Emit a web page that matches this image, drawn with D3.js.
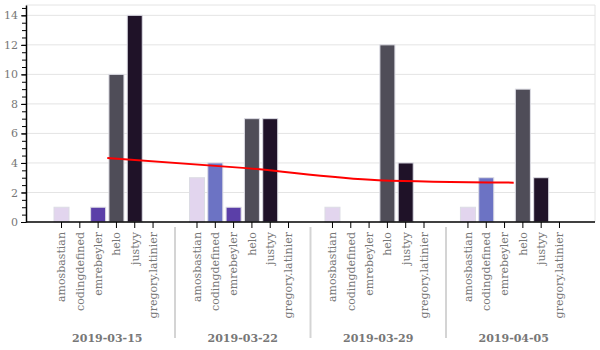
<!DOCTYPE html>
<html>
<head>
<meta charset="utf-8">
<script src="https://cdn.jsdelivr.net/npm/d3@7"></script>
<style>
  body { margin: 0; background: #fff; }
  svg text { font-family: "DejaVu Serif", "Liberation Serif", serif !important; }
</style>
</head>
<body>
<div id="chart"></div>
<script>
// weeks and users
const weeks = ["2019-03-15", "2019-03-22", "2019-03-29", "2019-04-05"];
const users = ["amosbastian", "codingdefined", "emrebeyler", "helo", "justyy", "gregory.latinier"];
const userColors = ["#e2d5ee", "#6c73c4", "#5b3fa8", "#4f4d58", "#1f1228", "#999999"];

// counts per user, one array per week (same order as users)
const week1 = [1, 0, 1, 10, 14, 0];
const week2 = [3, 4, 1, 7, 7, 0];
const week3 = [1, 0, 0, 12, 4, 0];
const week4 = [1, 3, 0, 9, 3, 0];
const counts = [week1, week2, week3, week4];

const w = 600, h = 350;
const margin = {top: 5, right: 5, bottom: 128, left: 26};
const serif = '"DejaVu Serif", "Liberation Serif", serif';

const svg = d3.select("#chart").append("svg")
  .attr("width", w).attr("height", h);

const x0 = d3.scaleBand()
  .domain(weeks)
  .range([margin.left, w - margin.right])
  .paddingInner(0).paddingOuter(0.1);

const x1 = d3.scaleBand()
  .domain(users)
  .range([0, x0.bandwidth()])
  .paddingInner(0.18).paddingOuter(0.79);

const yMax = d3.max(counts, d => d3.max(d)) * 1.05;
const y = d3.scaleLinear()
  .domain([0, yMax])
  .range([h - margin.bottom, margin.top]);

const color = d3.scaleOrdinal().domain(users).range(userColors);

// grid lines
svg.append("g")
  .selectAll("line")
  .data(d3.range(2, 15, 2))
  .join("line")
  .attr("x1", margin.left).attr("x2", w - margin.right)
  .attr("y1", d => y(d)).attr("y2", d => y(d))
  .attr("stroke", "#e4e4e4");

// frame top + right
svg.append("path")
  .attr("d", `M${margin.left},${margin.top}H${w - margin.right}V${h - margin.bottom}`)
  .attr("fill", "none")
  .attr("stroke", "#e4e4e4");

// bars
const groups = svg.append("g")
  .selectAll("g")
  .data(weeks)
  .join("g")
  .attr("transform", d => `translate(${x0(d)},0)`);

groups.selectAll("rect")
  .data((d, i) => users.map((u, j) => ({user: u, value: counts[i][j]})).filter(v => v.value > 0))
  .join("rect")
  .attr("x", d => x1(d.user))
  .attr("y", d => y(d.value))
  .attr("width", x1.bandwidth())
  .attr("height", d => y(0) - y(d.value))
  .attr("fill", d => color(d.user))
  .attr("stroke", "#dcdce4")
  .attr("stroke-width", 1);

// x ticks and user labels per week
groups.each(function() {
  const g = d3.select(this).append("g")
    .attr("transform", `translate(0,${y(0)})`)
    .call(d3.axisBottom(x1).tickSize(6).tickSizeOuter(0));
  g.attr("font-family", null);
  g.select(".domain").remove();
  g.selectAll(".tick line").attr("stroke", "#000");
  g.selectAll(".tick text")
    .style("font-family", serif)
    .attr("font-size", 11)
    .attr("fill", "#777")
    .attr("text-anchor", "end")
    .attr("transform", "rotate(-90)")
    .attr("x", -10)
    .attr("y", 0)
    .attr("dy", "0.35em");
});

// week labels
svg.append("g")
  .selectAll("text")
  .data(weeks)
  .join("text")
  .attr("x", d => x0(d) + x0.bandwidth() / 2)
  .attr("y", 342)
  .attr("text-anchor", "middle")
  .style("font-family", serif)
  .attr("font-size", 11)
  .attr("font-weight", "bold")
  .attr("fill", "#777")
  .text(d => d);

// separators between weeks
svg.append("g")
  .selectAll("line")
  .data(weeks.slice(1))
  .join("line")
  .attr("x1", d => x0(d)).attr("x2", d => x0(d))
  .attr("y1", 227).attr("y2", 338)
  .attr("stroke", "#d4d4d4")
  .attr("stroke-width", 2);

// x axis line
svg.append("line")
  .attr("x1", margin.left).attr("x2", w - margin.right)
  .attr("y1", y(0)).attr("y2", y(0))
  .attr("stroke", "#000").attr("stroke-width", 1.5);

// y axis minor ticks
svg.append("g")
  .attr("transform", `translate(${margin.left},0)`)
  .call(d3.axisLeft(y).tickValues(d3.range(0, 14.6, 0.5)).tickFormat("").tickSize(4).tickSizeOuter(0))
  .call(g => g.select(".domain").remove());

// y axis major
svg.append("g")
  .attr("transform", `translate(${margin.left},0)`)
  .attr("font-family", null)
  .call(d3.axisLeft(y).tickValues(d3.range(0, 15, 2)).tickSize(5).tickSizeOuter(0))
  .call(g => g.select(".domain").attr("stroke", "#000").attr("stroke-width", 1.5))
  .call(g => g.selectAll(".tick text")
    .style("font-family", serif)
    .attr("font-size", 11)
    .attr("fill", "#777"));

// mean line
const means = counts.map(c => d3.mean(c));
const line = d3.line()
  .x((d, i) => x0(weeks[i]) + x0.bandwidth() / 2)
  .y(d => y(d))
  .curve(d3.curveMonotoneX);

svg.append("path")
  .datum(means)
  .attr("d", line)
  .attr("fill", "none")
  .attr("stroke", "#ff0000")
  .attr("stroke-width", 2);
</script>
</body>
</html>
